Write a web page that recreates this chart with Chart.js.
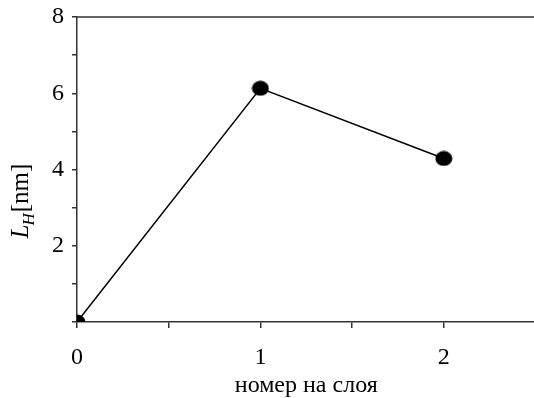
<!DOCTYPE html>
<html>
<head>
<meta charset="utf-8">
<script src="https://cdn.jsdelivr.net/npm/chart.js@4/dist/chart.umd.min.js"></script>
<style>
  html, body { margin: 0; padding: 0; background: #fff; }
  #clip { width: 534px; height: 398px; overflow: hidden; }
  #wrap { width: 545px; height: 398px; position: relative; }
</style>
</head>
<body>
<div id="clip"><div id="wrap"><canvas id="chartLH"></canvas></div></div>
<script>
// datos
const layerNumbers = [0, 1, 2];
const lhValues = [0, 6.13, 4.29];
const xTickValues = [0, 0.5, 1, 1.5, 2];
const yTickValues = [0, 1, 2, 3, 4, 5, 6, 7, 8];
const xAxisTitle = "номер на слоя";

const AXIS = "#333333";
const FONT = "'Liberation Serif', 'Times New Roman', serif";

// marcador elíptico negro
const dot = document.createElement("canvas");
dot.width = 18;
dot.height = 16;
const dctx = dot.getContext("2d");
dctx.fillStyle = "#000";
dctx.beginPath();
dctx.ellipse(9, 8, 8.5, 7.5, 0, 0, Math.PI * 2);
dctx.fill();

// línea superior del marco y título del eje y (L_H[nm])
const framePlugin = {
    id: "framePlugin",
    afterDraw(chart) {
        const { ctx, chartArea } = chart;
        ctx.save();
        ctx.strokeStyle = AXIS;
        ctx.lineWidth = 1.5;
        ctx.beginPath();
        ctx.moveTo(chartArea.left, chartArea.top);
        ctx.lineTo(chart.width, chartArea.top);
        ctx.stroke();

        ctx.translate(28, 201);
        ctx.rotate(-Math.PI / 2);
        ctx.fillStyle = "#000";
        ctx.textBaseline = "alphabetic";
        const big = "italic 25px " + FONT;
        const sub = "italic 17px " + FONT;
        const reg = "25px " + FONT;
        ctx.font = big; const wL = ctx.measureText("L").width;
        ctx.font = sub; const wH = ctx.measureText("H").width;
        ctx.font = reg; const wN = ctx.measureText("[nm]").width;
        let x = -(wL + wH + wN) / 2;
        ctx.font = big; ctx.fillText("L", x, 0); x += wL;
        ctx.font = sub; ctx.fillText("H", x - 1, 6); x += wH;
        ctx.font = reg; ctx.fillText("[nm]", x, 0);
        ctx.restore();
    }
};

new Chart(document.getElementById("chartLH").getContext("2d"), {
    type: "scatter",
    data: {
        datasets: [{
            data: layerNumbers.map((x, i) => ({ x: x, y: lhValues[i] })),
            showLine: true,
            borderColor: "#000",
            borderWidth: 1.5,
            pointStyle: dot,
            pointRadius: 8,
            pointHoverRadius: 8,
            clip: 0
        }]
    },
    options: {
        responsive: true,
        maintainAspectRatio: false,
        animation: false,
        events: [],
        layout: { padding: { top: 17, right: 6, bottom: 0, left: 0 } },
        plugins: { legend: { display: false }, tooltip: { enabled: false } },
        scales: {
            x: {
                type: "linear",
                min: 0,
                max: 2.5,
                afterBuildTicks: (s) => { s.ticks = xTickValues.map(v => ({ value: v })); },
                afterFit: (s) => { s.height = 76; s.paddingLeft = 0; s.paddingRight = 0; },
                ticks: {
                    color: "#000",
                    font: { family: FONT, size: 24 },
                    padding: 15,
                    maxRotation: 0,
                    callback: (v) => Number.isInteger(v) ? String(v) : ""
                },
                grid: { drawOnChartArea: false, drawTicks: true, tickLength: 6, color: AXIS, lineWidth: 1.5 },
                border: { color: AXIS, width: 1.5 },
                title: {
                    display: true,
                    text: xAxisTitle,
                    color: "#000",
                    font: { family: FONT, size: 24 },
                    padding: { top: 0, bottom: -2 }
                }
            },
            y: {
                min: 0,
                max: 8,
                afterBuildTicks: (s) => { s.ticks = yTickValues.map(v => ({ value: v })); },
                afterFit: (s) => { s.width = 77; s.paddingTop = 0; s.paddingBottom = 0; },
                ticks: {
                    color: "#000",
                    font: { family: FONT, size: 24 },
                    padding: 8,
                    callback: (v) => (v > 0 && v % 2 === 0) ? String(v) : ""
                },
                grid: { drawOnChartArea: false, drawTicks: true, tickLength: 5, color: AXIS, lineWidth: 1.5 },
                border: { color: AXIS, width: 1.5 }
            }
        }
    },
    plugins: [framePlugin]
});
</script>
</body>
</html>
